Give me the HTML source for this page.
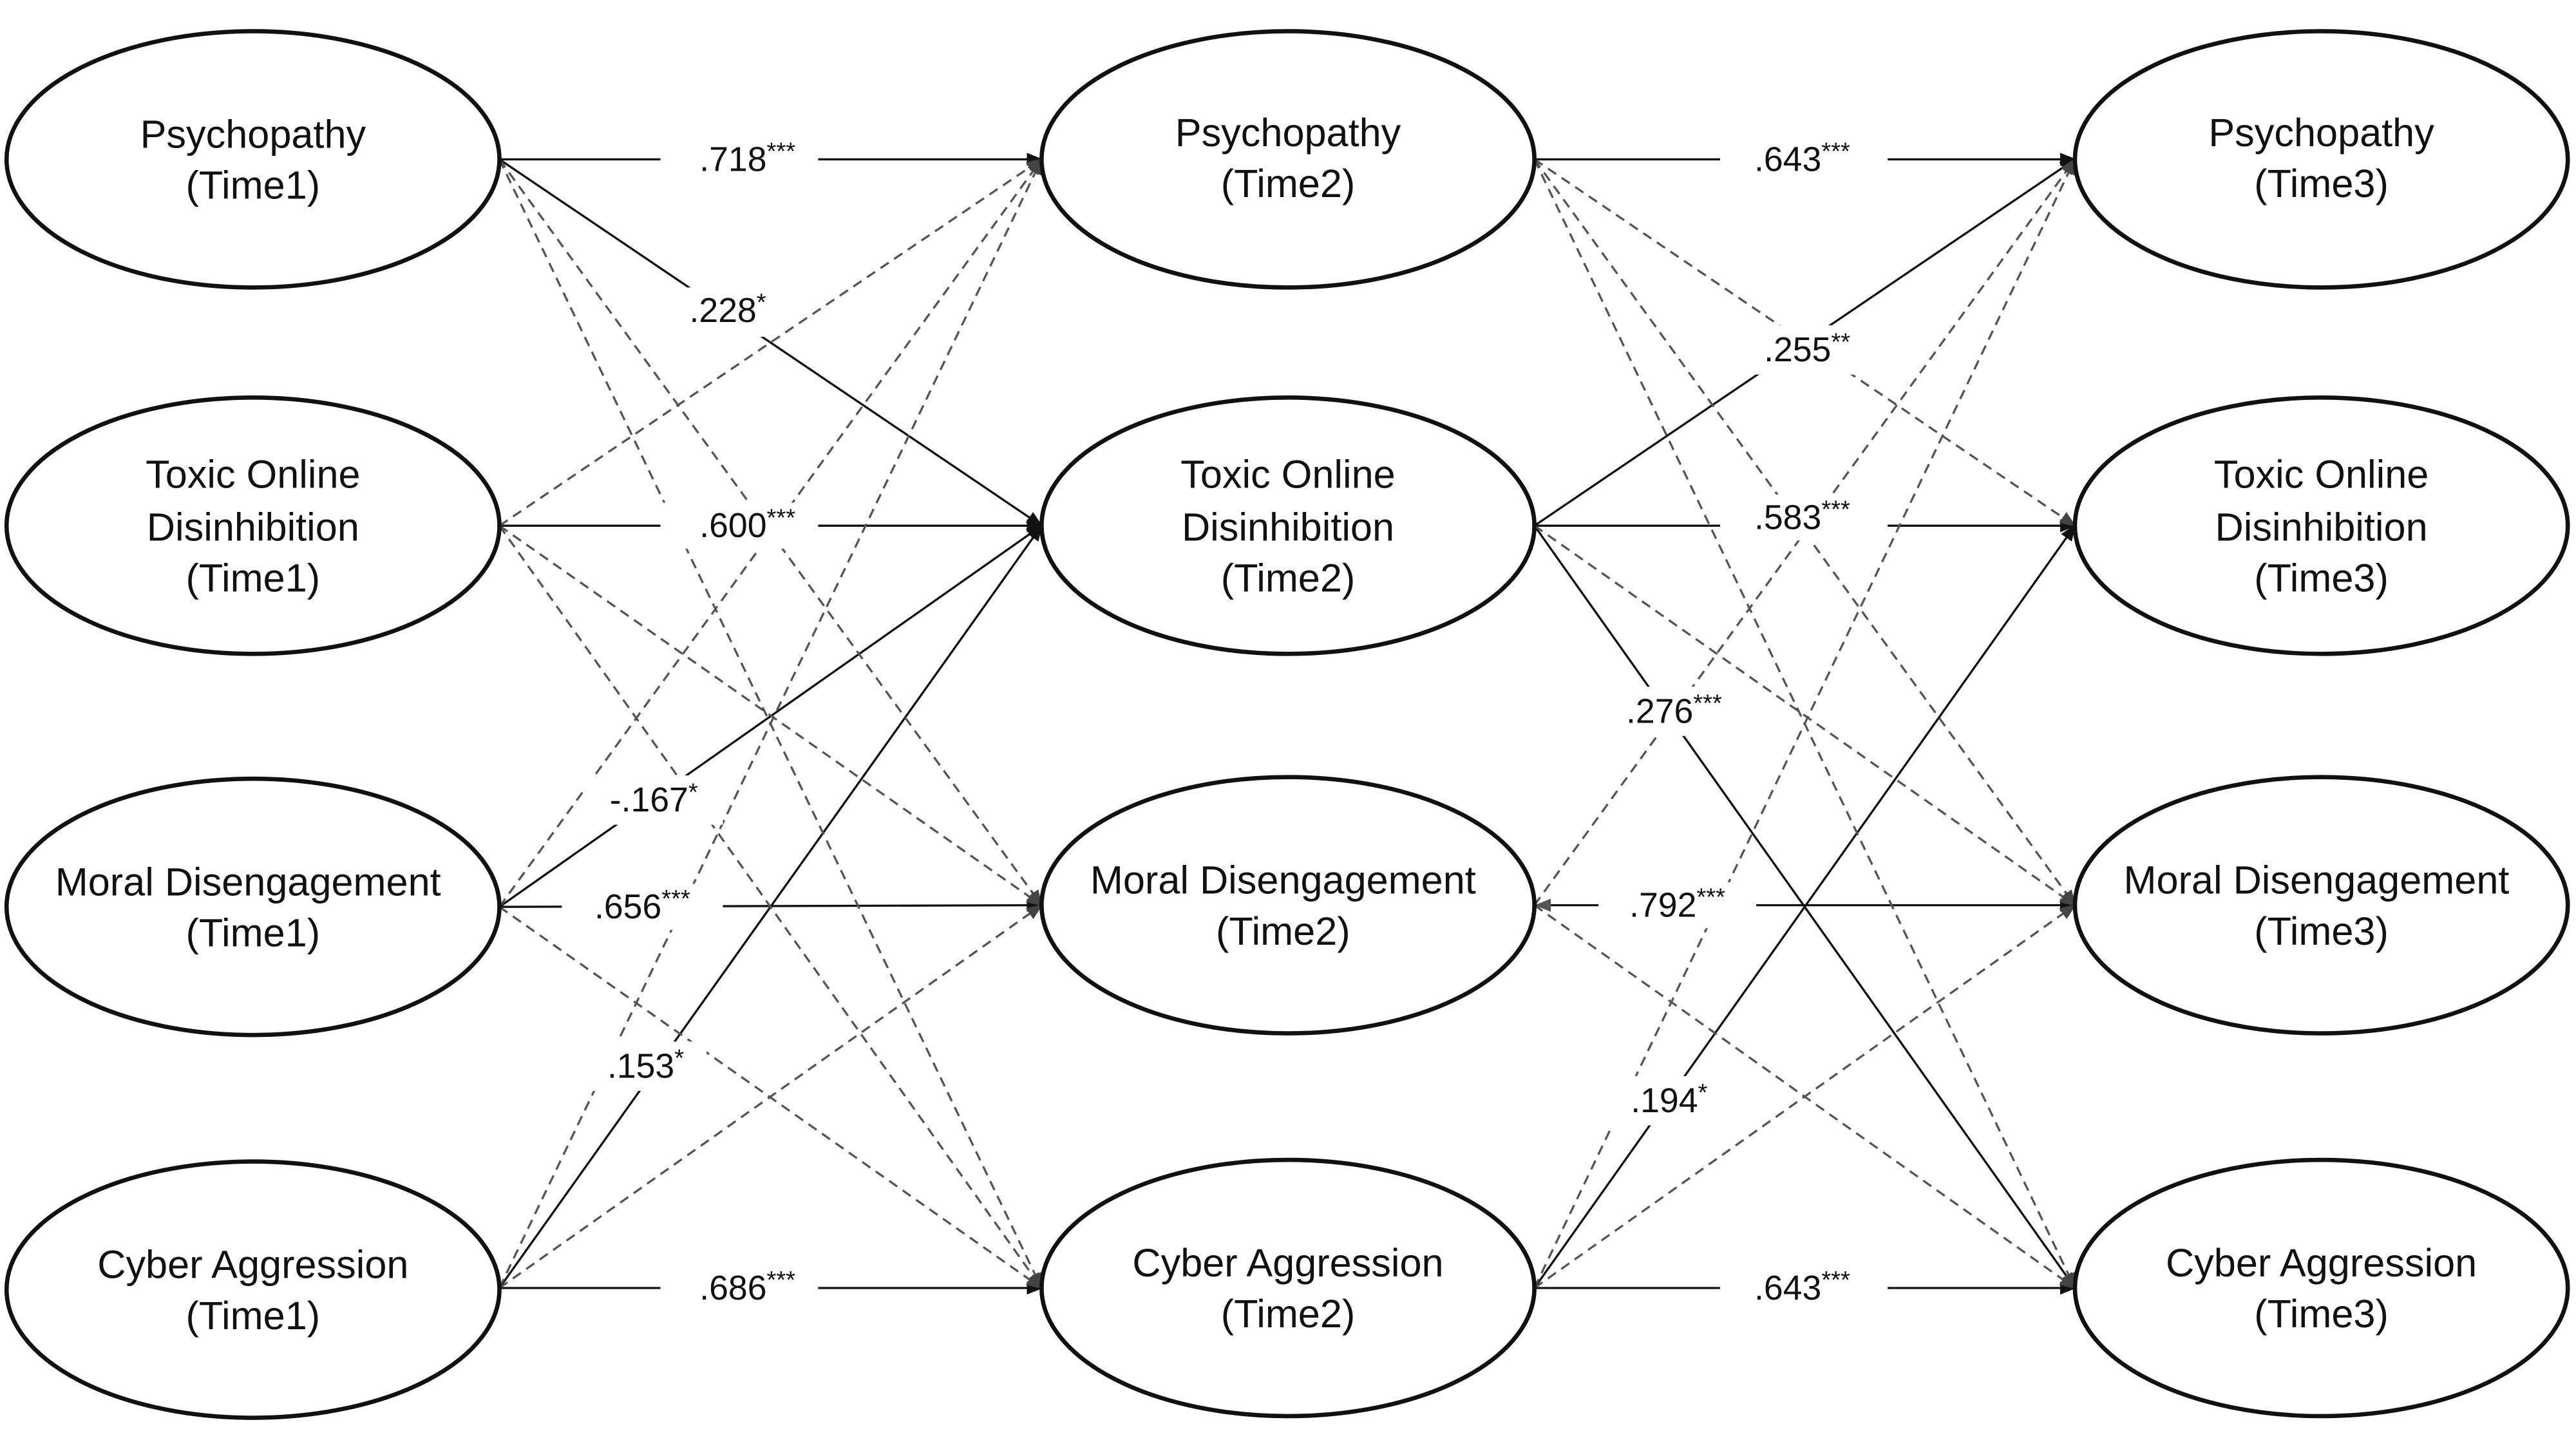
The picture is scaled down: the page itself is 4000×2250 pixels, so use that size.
<!DOCTYPE html>
<html><head><meta charset="utf-8"><style>
html,body{margin:0;padding:0;background:#fff;}
svg{display:block;}
</style></head><body>
<svg width="4000" height="2250" viewBox="0 0 1568 882" preserveAspectRatio="none" xmlns="http://www.w3.org/2000/svg" font-family="Liberation Sans, DejaVu Sans, sans-serif">
<defs>
<marker id="a" markerWidth="10" markerHeight="8" refX="9" refY="4" orient="auto" markerUnits="userSpaceOnUse"><path d="M0,0 L10,4 L0,8 z" fill="#111"/></marker>
<marker id="d" markerWidth="10" markerHeight="8" refX="9" refY="4" orient="auto" markerUnits="userSpaceOnUse"><path d="M0,0 L10,4 L0,8 z" fill="#444"/></marker>
</defs>
<g id="edges">
<g stroke="#111" stroke-width="1.3" fill="none" marker-end="url(#a)">
<line x1="304" y1="97" x2="634" y2="97"/>
<line x1="304" y1="97" x2="634" y2="320"/>
<line x1="304" y1="320" x2="634" y2="320"/>
<line x1="304" y1="552" x2="634" y2="320"/>
<line x1="304" y1="552" x2="634" y2="551"/>
<line x1="304" y1="784" x2="634" y2="320"/>
<line x1="304" y1="784" x2="634" y2="784"/>
</g>
<g stroke="#555" stroke-width="1.3" fill="none" stroke-dasharray="6,4" marker-end="url(#d)">
<line x1="304" y1="97" x2="634" y2="551"/>
<line x1="304" y1="97" x2="634" y2="784"/>
<line x1="304" y1="320" x2="634" y2="97"/>
<line x1="304" y1="320" x2="634" y2="551"/>
<line x1="304" y1="320" x2="634" y2="784"/>
<line x1="304" y1="552" x2="634" y2="97"/>
<line x1="304" y1="552" x2="634" y2="784"/>
<line x1="304" y1="784" x2="634" y2="97"/>
<line x1="304" y1="784" x2="634" y2="551"/>
</g>
<g stroke="#111" stroke-width="1.3" fill="none" marker-end="url(#a)">
<line x1="934" y1="97" x2="1263" y2="97"/>
<line x1="934" y1="320" x2="1263" y2="97"/>
<line x1="934" y1="320" x2="1263" y2="320"/>
<line x1="934" y1="320" x2="1263" y2="784"/>
<line x1="934" y1="551" x2="1263" y2="551"/>
<line x1="934" y1="784" x2="1263" y2="320"/>
<line x1="934" y1="784" x2="1263" y2="784"/>
</g>
<g stroke="#555" stroke-width="1.3" fill="none" stroke-dasharray="6,4" marker-end="url(#d)">
<line x1="934" y1="97" x2="1263" y2="320"/>
<line x1="934" y1="97" x2="1263" y2="551"/>
<line x1="934" y1="97" x2="1263" y2="784"/>
<line x1="934" y1="320" x2="1263" y2="551"/>
<line x1="934" y1="551" x2="1263" y2="97"/>
<line x1="934" y1="551" x2="1263" y2="784"/>
<line x1="934" y1="784" x2="1263" y2="97"/>
<line x1="934" y1="784" x2="1263" y2="551"/>
</g>
<polygon points="934,551 944,547 944,555" fill="#555"/>
</g>
<g id="labels" font-size="21" fill="#111" text-anchor="middle">
<g fill="#fff">
<rect x="402" y="83" width="96" height="28"/>
<rect x="405" y="175" width="68" height="30"/>
<rect x="402" y="306" width="96" height="28"/>
<rect x="356" y="472" width="84" height="30"/>
<rect x="342" y="538" width="98" height="28"/>
<rect x="356" y="634" width="74" height="30"/>
<rect x="402" y="770" width="96" height="28"/>
<rect x="1047" y="83" width="102" height="28"/>
<rect x="1060" y="198" width="88" height="30"/>
<rect x="1047" y="301" width="102" height="28"/>
<rect x="976" y="418" width="90" height="30"/>
<rect x="973" y="537" width="96" height="28"/>
<rect x="978" y="655" width="74" height="30"/>
<rect x="1047" y="770" width="102" height="28"/>
</g>
<text x="455" y="104">.718<tspan font-size="15" dy="-7">***</tspan></text>
<text x="443" y="196">.228<tspan font-size="15" dy="-7">*</tspan></text>
<text x="455" y="327">.600<tspan font-size="15" dy="-7">***</tspan></text>
<text x="398" y="494">-.167<tspan font-size="15" dy="-7">*</tspan></text>
<text x="391" y="559">.656<tspan font-size="15" dy="-7">***</tspan></text>
<text x="393" y="656">.153<tspan font-size="15" dy="-7">*</tspan></text>
<text x="455" y="791">.686<tspan font-size="15" dy="-7">***</tspan></text>
<text x="1097" y="104">.643<tspan font-size="15" dy="-7">***</tspan></text>
<text x="1100" y="220">.255<tspan font-size="15" dy="-7">**</tspan></text>
<text x="1097" y="322">.583<tspan font-size="15" dy="-7">***</tspan></text>
<text x="1019" y="440">.276<tspan font-size="15" dy="-7">***</tspan></text>
<text x="1021" y="558">.792<tspan font-size="15" dy="-7">***</tspan></text>
<text x="1016" y="677">.194<tspan font-size="15" dy="-7">*</tspan></text>
<text x="1097" y="791">.643<tspan font-size="15" dy="-7">***</tspan></text>
</g>
<g id="nodes" fill="#fff" stroke="#111" stroke-width="2.6">
<ellipse cx="154" cy="97" rx="150" ry="78"/>
<ellipse cx="154" cy="320" rx="150" ry="78"/>
<ellipse cx="154" cy="552" rx="150" ry="78"/>
<ellipse cx="154" cy="785" rx="150" ry="78"/>
<ellipse cx="784" cy="97" rx="150" ry="78"/>
<ellipse cx="784" cy="320" rx="150" ry="78"/>
<ellipse cx="784" cy="551" rx="150" ry="78"/>
<ellipse cx="784" cy="784" rx="150" ry="78"/>
<ellipse cx="1413" cy="97" rx="150" ry="78"/>
<ellipse cx="1413" cy="320" rx="150" ry="78"/>
<ellipse cx="1413" cy="551" rx="150" ry="78"/>
<ellipse cx="1413" cy="784" rx="150" ry="78"/>
</g>
<g font-size="24" fill="#111" text-anchor="middle">
<text x="154" y="90">Psychopathy</text><text x="154" y="121">(Time1)</text>
<text x="154" y="297">Toxic Online</text><text x="154" y="329">Disinhibition</text><text x="154" y="360">(Time1)</text>
<text x="151" y="545">Moral Disengagement</text><text x="154" y="576">(Time1)</text>
<text x="154" y="778">Cyber Aggression</text><text x="154" y="809">(Time1)</text>
<text x="784" y="89">Psychopathy</text><text x="784" y="120">(Time2)</text>
<text x="784" y="297">Toxic Online</text><text x="784" y="329">Disinhibition</text><text x="784" y="360">(Time2)</text>
<text x="781" y="544">Moral Disengagement</text><text x="781" y="575">(Time2)</text>
<text x="784" y="777">Cyber Aggression</text><text x="784" y="808">(Time2)</text>
<text x="1413" y="89">Psychopathy</text><text x="1413" y="120">(Time3)</text>
<text x="1413" y="297">Toxic Online</text><text x="1413" y="329">Disinhibition</text><text x="1413" y="360">(Time3)</text>
<text x="1410" y="544">Moral Disengagement</text><text x="1413" y="575">(Time3)</text>
<text x="1413" y="777">Cyber Aggression</text><text x="1413" y="808">(Time3)</text>
</g>
</svg>
</body></html>
